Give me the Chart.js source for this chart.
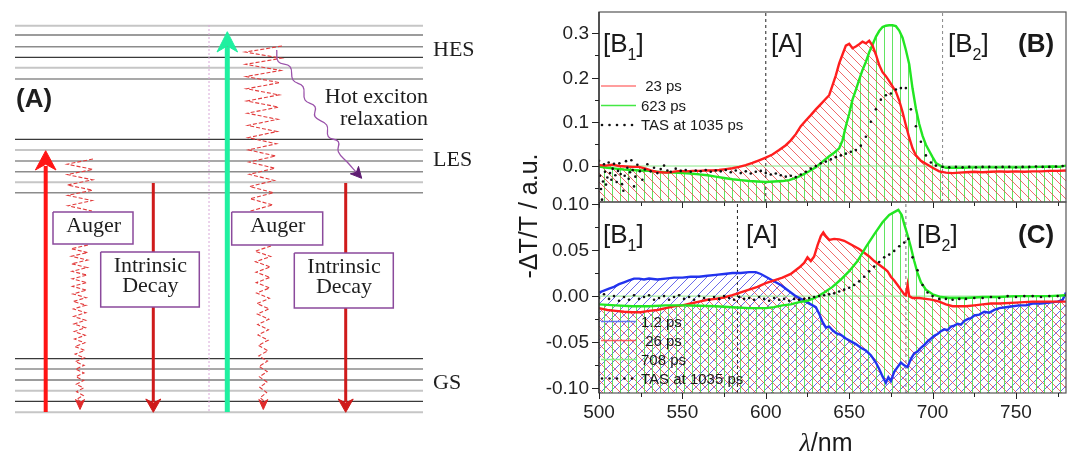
<!DOCTYPE html>
<html>
<head>
<meta charset="utf-8">
<script src="https://cdn.jsdelivr.net/npm/chart.js@4.4.1/dist/chart.umd.min.js"></script>
<style>
html, body { margin: 0; padding: 0; background: #fff; }
#wrap { position: relative; width: 1072px; height: 458px; overflow: hidden; }
canvas { position: absolute; top: 0; }
#scheme { left: 0; }
#panelB, #panelC { left: 480px; }
</style>
</head>
<body>
<div id="wrap">
  <canvas id="scheme" width="480" height="458"></canvas>
  <canvas id="panelB" width="592" height="458"></canvas>
  <canvas id="panelC" width="592" height="458"></canvas>
</div>
<script>
// ---- panel (B): -dT/T spectra, [nm, value]
const b23 = [[500,0.002],[504,0.001],[508,0.003],[512,0.0],[516,-0.001],[520,-0.002],[524,-0.002],[528,-0.006],[531,-0.010],[534,-0.013],[537,-0.014],[540,-0.015],[543,-0.014],[546,-0.012],[549,-0.011],[552,-0.012],[556,-0.011],[560,-0.011],[564,-0.010],[568,-0.010],[572,-0.009],[576,-0.007],[580,-0.005],[584,-0.002],[588,0.002],[592,0.007],[596,0.013],[600,0.019],[604,0.026],[608,0.036],[612,0.047],[615,0.058],[618,0.072],[621,0.090],[624,0.103],[627,0.115],[630,0.128],[633,0.140],[636,0.152],[638,0.160],[640,0.182],[642,0.205],[644,0.232],[646,0.252],[648,0.272],[650,0.276],[652,0.266],[654,0.270],[656,0.275],[658,0.281],[660,0.277],[662,0.283],[664,0.272],[666,0.252],[668,0.228],[670,0.212],[672,0.203],[674,0.192],[676,0.180],[678,0.168],[680,0.148],[682,0.122],[684,0.092],[686,0.064],[688,0.040],[690,0.024],[693,0.012],[696,0.005],[700,-0.004],[704,-0.012],[708,-0.015],[712,-0.016],[716,-0.015],[720,-0.014],[725,-0.013],[730,-0.014],[735,-0.013],[740,-0.012],[745,-0.013],[750,-0.012],[755,-0.013],[760,-0.012],[765,-0.012],[770,-0.011],[775,-0.011],[780,-0.010]];
const b623 = [[500,-0.001],[505,-0.004],[510,-0.006],[515,-0.008],[520,-0.009],[525,-0.010],[530,-0.011],[535,-0.013],[540,-0.014],[545,-0.015],[550,-0.016],[555,-0.017],[560,-0.019],[565,-0.021],[570,-0.024],[575,-0.027],[580,-0.030],[585,-0.032],[590,-0.034],[595,-0.035],[600,-0.036],[605,-0.035],[610,-0.034],[614,-0.032],[618,-0.027],[622,-0.020],[626,-0.012],[630,-0.003],[634,0.010],[638,0.022],[641,0.030],[644,0.040],[646,0.058],[648,0.090],[650,0.118],[652,0.150],[654,0.172],[656,0.195],[658,0.217],[660,0.235],[662,0.257],[664,0.274],[666,0.292],[668,0.305],[670,0.314],[672,0.317],[674,0.318],[676,0.318],[678,0.316],[680,0.306],[682,0.290],[684,0.262],[686,0.230],[688,0.175],[690,0.130],[692,0.095],[694,0.068],[696,0.048],[698,0.034],[700,0.020],[702,0.007],[705,0.000],[708,-0.004],[712,-0.004],[718,-0.004],[725,-0.003],[735,-0.003],[745,-0.003],[755,-0.003],[765,-0.002],[772,-0.001],[776,-0.002],[780,0.001]];
const bTas = [[500,0.012],[500.6,-0.022],[501.2,-0.052],[501.8,-0.076],[502.4,-0.035],[503,0.004],[503.6,-0.013],[504.2,-0.042],[505,-0.026],[505.8,0.008],[506.6,-0.016],[507.4,-0.031],[508.2,-0.006],[509,0.005],[509.8,-0.021],[510.6,-0.036],[511.4,-0.011],[512.2,0.006],[513,-0.018],[513.8,-0.041],[514.6,-0.056],[515.4,-0.022],[516.2,0.011],[517,-0.004],[517.8,-0.029],[518.6,-0.014],[519.4,0.013],[520.2,-0.009],[521,-0.046],[521.8,-0.024],[523,0.003],[524.5,-0.012],[526,-0.031],[527.5,-0.008],[529,0.004],[531,-0.012],[533,-0.004],[535,-0.016],[537,-0.007],[539,0.001],[541,-0.010],[543,-0.013],[546,-0.006],[549,-0.011],[552,-0.009],[555,-0.013],[558,-0.010],[561,-0.012],[564,-0.009],[567,-0.013],[570,-0.010],[573,-0.012],[576,-0.009],[579,-0.014],[582,-0.010],[585,-0.016],[588,-0.012],[591,-0.017],[594,-0.013],[597,-0.011],[600,-0.016],[603,-0.019],[606,-0.017],[609,-0.021],[612,-0.024],[615,-0.022],[618,-0.025],[621,-0.019],[624,-0.013],[627,-0.006],[630,0.000],[633,0.006],[636,0.010],[639,0.015],[642,0.020],[645,0.024],[648,0.028],[651,0.032],[654,0.036],[657,0.046],[660,0.066],[663,0.100],[666,0.128],[669,0.150],[672,0.160],[675,0.164],[678,0.173],[681,0.176],[684,0.176],[687,0.128],[690,0.090],[693,0.055],[696,0.024],[699,0.008],[702,0.001],[706,-0.002],[710,-0.003],[714,-0.002],[718,-0.003],[722,-0.002],[726,-0.003],[730,-0.002],[734,-0.002],[738,-0.003],[742,-0.002],[746,-0.002],[750,-0.003],[754,-0.002],[758,-0.002],[762,-0.001],[766,-0.002],[770,-0.002],[774,-0.001],[778,0.0]];
const bDividers = [600, 706];

// ---- panel (C)
const c12 = [[500,0.004],[503,0.006],[506,0.008],[509,0.010],[512,0.013],[515,0.015],[518,0.017],[521,0.019],[524,0.019],[527,0.018],[530,0.019],[535,0.018],[540,0.019],[545,0.020],[550,0.020],[555,0.021],[560,0.021],[565,0.022],[570,0.023],[575,0.024],[580,0.025],[585,0.025],[590,0.026],[594,0.026],[597,0.024],[600,0.021],[603,0.018],[606,0.015],[609,0.012],[612,0.008],[615,0.004],[618,0.000],[621,-0.003],[624,-0.006],[627,-0.009],[630,-0.012],[632,-0.019],[634,-0.028],[636,-0.034],[638,-0.033],[640,-0.037],[642,-0.040],[645,-0.042],[648,-0.046],[651,-0.049],[654,-0.052],[657,-0.056],[660,-0.059],[663,-0.064],[666,-0.072],[668,-0.079],[670,-0.087],[672,-0.094],[673.5,-0.088],[675,-0.092],[677,-0.082],[679,-0.077],[681,-0.072],[683,-0.075],[685,-0.077],[687,-0.068],[689,-0.062],[691,-0.060],[693,-0.056],[695,-0.053],[697,-0.049],[699,-0.046],[701,-0.043],[703,-0.041],[705,-0.038],[707,-0.036],[709,-0.037],[711,-0.033],[713,-0.032],[715,-0.030],[717,-0.031],[719,-0.027],[721,-0.025],[723,-0.024],[725,-0.021],[728,-0.020],[731,-0.017],[734,-0.018],[737,-0.015],[740,-0.013],[744,-0.012],[748,-0.011],[752,-0.010],[756,-0.010],[760,-0.008],[765,-0.008],[770,-0.007],[775,-0.006],[778,-0.004],[780,0.004]];
const c26 = [[500,-0.013],[505,-0.015],[510,-0.016],[515,-0.017],[520,-0.0175],[525,-0.0175],[530,-0.016],[535,-0.015],[540,-0.013],[545,-0.011],[550,-0.010],[555,-0.008],[560,-0.006],[565,-0.004],[570,-0.003],[575,-0.0015],[580,0.001],[585,0.004],[590,0.007],[595,0.010],[600,0.014],[605,0.017],[610,0.020],[615,0.024],[620,0.031],[623,0.036],[625,0.042],[627,0.038],[629,0.043],[631,0.055],[633,0.065],[634.5,0.069],[636,0.065],[638,0.061],[641,0.062],[644,0.0615],[647,0.060],[650,0.057],[653,0.054],[656,0.051],[659,0.047],[662,0.043],[665,0.038],[668,0.034],[671,0.030],[673,0.027],[675,0.021],[677,0.017],[679,0.012],[681,0.007],[683,0.002],[684,0.001],[685,0.012],[686,0.000],[688,-0.002],[692,-0.002],[696,-0.003],[700,-0.004],[704,-0.006],[708,-0.009],[712,-0.011],[716,-0.011],[720,-0.011],[725,-0.010],[730,-0.009],[735,-0.008],[740,-0.008],[750,-0.007],[760,-0.006],[770,-0.006],[780,-0.006]];
const c708 = [[500,-0.009],[510,-0.010],[520,-0.011],[530,-0.011],[540,-0.010],[550,-0.010],[560,-0.0105],[570,-0.011],[580,-0.012],[590,-0.013],[600,-0.013],[605,-0.012],[610,-0.010],[615,-0.009],[620,-0.0065],[625,-0.005],[630,-0.0015],[635,0.004],[640,0.010],[645,0.018],[650,0.027],[655,0.038],[660,0.053],[665,0.067],[670,0.080],[674,0.088],[677,0.091],[679.5,0.0935],[681.5,0.088],[683,0.078],[685,0.066],[687,0.053],[689,0.038],[691,0.025],[693,0.015],[696,0.007],[700,0.002],[705,-0.001],[710,-0.002],[720,-0.002],[730,-0.001],[740,-0.001],[750,0.0],[760,0.0],[770,0.0],[780,0.001]];
const cTas = [[500,-0.002],[503,0.002],[506,-0.003],[509,0.0],[512,-0.005],[515,-0.001],[518,-0.004],[521,0.001],[524,-0.003],[527,-0.001],[530,0.001],[533,-0.004],[536,-0.002],[539,0.0],[542,-0.004],[545,-0.001],[548,0.001],[551,-0.003],[554,-0.001],[557,-0.004],[560,0.0],[563,-0.002],[566,-0.004],[569,-0.001],[572,-0.003],[575,0.0],[578,-0.002],[581,-0.004],[584,-0.001],[587,-0.003],[590,-0.002],[593,-0.004],[596,-0.001],[599,-0.003],[602,-0.005],[605,-0.002],[608,-0.004],[611,-0.003],[614,-0.005],[617,-0.003],[620,-0.004],[623,-0.003],[626,-0.002],[629,-0.001],[632,0.0],[635,0.001],[638,0.002],[641,0.003],[644,0.005],[647,0.007],[650,0.009],[653,0.012],[656,0.016],[659,0.021],[662,0.027],[665,0.032],[668,0.037],[671,0.042],[674,0.045],[677,0.049],[680,0.054],[683,0.058],[685.5,0.062],[688,0.042],[691,0.028],[694,0.012],[697,0.004],[700,0.0],[704,-0.003],[708,-0.003],[712,-0.004],[716,-0.003],[720,-0.003],[725,-0.002],[730,-0.002],[735,-0.001],[740,-0.002],[745,0.0],[750,-0.001],[755,0.0],[760,0.0],[765,-0.001],[770,0.0],[775,0.0],[780,0.001]];
const cDividers = [583, 684];

// ---- axes
const xTickValues = [500, 525, 550, 575, 600, 625, 650, 675, 700, 725, 750, 775];
const xLabelValues = [500, 550, 600, 650, 700, 750];
const yTicksB = [0.0, 0.1, 0.2, 0.3];
const yMinorB = [-0.05, 0.05, 0.15, 0.25];
const yTicksC = [-0.10, -0.05, 0.0, 0.05, 0.10];
const yMinorC = [-0.075, -0.025, 0.025, 0.075];
const legendB = [' 23 ps', '623 ps', 'TAS at 1035 ps'];
const legendC = ['1.2 ps', ' 26 ps', '708 ps', 'TAS at 1035 ps'];

// ---- scheme (A): energies in drawing units (top = 0)
const hesLevels = [25.7, 35, 46.7, 57.3, 67.7, 79];
const lesLevels = [139.3, 150, 161, 171.7, 182.3, 192.7];
const gsLevels = [358.7, 369, 380, 390.7, 401.3, 412.3];
const hesTone = ['light', 'dark', 'mid', 'dark', 'light', 'mid'];
const lesTone = ['dark', 'light', 'mid', 'mid', 'light', 'mid'];
const gsTone = ['dark', 'mid', 'dark', 'light', 'dark', 'light'];
const hotPath = [[276.7,50],[278.3,61.7],[290,66.7],[293,80],[303,86.7],[305,100],[315,106.7],[315,116.7],[326.7,125],[328.3,136.7],[338.3,141.7],[338.3,151.7],[348.3,163.3],[356,172]];
const hotHead = [[361.7,178.3],[350.3,173.8],[356.4,172.3],[358.5,166.4],[361.7,178.3]];

const SANS = '"Liberation Sans", Arial, Helvetica, sans-serif';
const SERIF = '"Liberation Serif", "Times New Roman", serif';
Chart.defaults.font.family = SANS;

const xy = pairs => pairs.map(p => ({ x: p[0], y: p[1] }));

function hatch(canvasId, color, dir, size) {
  const c = document.createElement('canvas');
  c.width = c.height = size;
  const g = c.getContext('2d');
  g.strokeStyle = color;
  g.lineWidth = 1;
  g.beginPath();
  if (dir === 'v') {
    g.moveTo(Math.floor(size / 2) + 0.5, 0); g.lineTo(Math.floor(size / 2) + 0.5, size);
  } else if (dir === 'b') {
    g.moveTo(-1, -1); g.lineTo(size + 1, size + 1);
    g.moveTo(size - 1, -1); g.lineTo(size + 1, 1);
    g.moveTo(-1, size - 1); g.lineTo(1, size + 1);
  } else {
    g.moveTo(-1, size + 1); g.lineTo(size + 1, -1);
    g.moveTo(-1, 1); g.lineTo(1, -1);
    g.moveTo(size - 1, size + 1); g.lineTo(size + 1, size - 1);
  }
  g.stroke();
  return document.getElementById(canvasId).getContext('2d').createPattern(c, 'repeat');
}

function spectrum(pairs, color, pattern, order) {
  return { data: xy(pairs), borderColor: color, borderWidth: 2.4, pointRadius: 0,
    fill: 'start', backgroundColor: pattern, order: order };
}
function dots(pairs) {
  return { data: xy(pairs), showLine: false, pointRadius: 1.3, pointBorderWidth: 0,
    pointBackgroundColor: '#111', fill: false, order: 0 };
}
function vline(x, lo, hi, color) {
  return { data: [{ x: x, y: lo }, { x: x, y: hi }], borderColor: color, borderWidth: 1,
    borderDash: [3, 3], pointRadius: 0, fill: false, order: 8 };
}
function zeroLine() {
  return { data: [{ x: 500, y: 0 }, { x: 780, y: 0 }], borderColor: '#86e886', borderWidth: 1,
    pointRadius: 0, fill: false, order: 9 };
}

function drawTag(ctx, tag) {
  ctx.fillStyle = '#1a1a1a';
  ctx.textBaseline = 'alphabetic';
  ctx.textAlign = 'left';
  ctx.font = '26px ' + SANS;
  let x = tag.x;
  ctx.fillText(tag.main, x, tag.y);
  x += ctx.measureText(tag.main).width;
  if (tag.sub) {
    ctx.font = '16px ' + SANS;
    ctx.fillText(tag.sub, x, tag.y + 8);
    x += ctx.measureText(tag.sub).width;
    ctx.font = '26px ' + SANS;
  }
  ctx.fillText(tag.tail, x, tag.y);
}

function panelDecor(cfg) {
  return {
    id: 'decor' + cfg.name,
    afterDatasetsDraw(chart) {
      const { ctx, chartArea: a } = chart;
      const sx = chart.scales.x, sy = chart.scales.y;
      ctx.save();
      // frame
      ctx.strokeStyle = '#555';
      ctx.lineWidth = 1.2;
      ctx.strokeRect(a.left, a.top, a.right - a.left, a.bottom - a.top);
      ctx.strokeStyle = '#222';
      ctx.beginPath(); ctx.moveTo(a.left, a.top); ctx.lineTo(a.left, a.bottom); ctx.stroke();
      // y ticks
      ctx.lineWidth = 1;
      ctx.fillStyle = '#222';
      ctx.font = '19px ' + SANS;
      ctx.textAlign = 'right';
      ctx.textBaseline = 'middle';
      cfg.yMajor.forEach(v => {
        const py = Math.round(sy.getPixelForValue(v)) + 0.5;
        ctx.beginPath(); ctx.moveTo(a.left - 7, py); ctx.lineTo(a.left, py); ctx.stroke();
        ctx.fillText(v.toFixed(cfg.digits), a.left - 10, py);
      });
      cfg.yMinor.forEach(v => {
        const py = Math.round(sy.getPixelForValue(v)) + 0.5;
        ctx.beginPath(); ctx.moveTo(a.left - 4, py); ctx.lineTo(a.left, py); ctx.stroke();
      });
      // x ticks on the bottom edge
      xTickValues.forEach(v => {
        const px = Math.round(sx.getPixelForValue(v)) + 0.5;
        const len = v % 50 === 0 ? 6 : 4;
        ctx.beginPath(); ctx.moveTo(px, a.bottom); ctx.lineTo(px, a.bottom + len); ctx.stroke();
      });
      if (cfg.xLabels) {
        ctx.textAlign = 'center';
        xLabelValues.forEach(v => ctx.fillText(String(v), sx.getPixelForValue(v), a.bottom + 20));
      }
      // region tags
      cfg.tags.forEach(t => drawTag(ctx, t));
      ctx.font = 'bold 26px ' + SANS;
      ctx.textAlign = 'left';
      ctx.textBaseline = 'alphabetic';
      ctx.fillText(cfg.panel.t, cfg.panel.x, cfg.panel.y);
      // legend
      ctx.font = '15px ' + SANS;
      ctx.textBaseline = 'middle';
      cfg.legend.forEach((item, i) => {
        const ly = cfg.legendY + i * cfg.legendDy;
        if (item.dots) {
          ctx.fillStyle = '#111';
          for (let k = 0; k < 5; k++) {
            ctx.beginPath(); ctx.arc(a.left + 3 + k * 7.5, ly, 1.3, 0, Math.PI * 2); ctx.fill();
          }
        } else {
          ctx.strokeStyle = item.color;
          ctx.lineWidth = 1.3;
          ctx.beginPath(); ctx.moveTo(a.left + 2, ly); ctx.lineTo(a.left + 37, ly); ctx.stroke();
        }
        ctx.fillStyle = '#1a1a1a';
        ctx.fillText(item.label, a.left + 42, ly + 1);
      });
      if (cfg.titles) {
        ctx.fillStyle = '#1a1a1a';
        ctx.font = '25px ' + SANS;
        ctx.textAlign = 'center';
        ctx.textBaseline = 'middle';
        ctx.save();
        ctx.translate(a.left - 69, 216);
        ctx.rotate(-Math.PI / 2);
        ctx.fillText('-\u0394T/T / a.u.', 0, 0);
        ctx.restore();
        ctx.textBaseline = 'alphabetic';
        ctx.textAlign = 'left';
        ctx.font = 'italic 26px ' + SERIF;
        const w1 = ctx.measureText('\u03bb').width;
        ctx.font = '25px ' + SANS;
        const w2 = ctx.measureText('/nm').width;
        const x0 = 826 - 480 - (w1 + w2) / 2;
        ctx.font = 'italic 26px ' + SERIF;
        ctx.fillText('\u03bb', x0, 451);
        ctx.font = '25px ' + SANS;
        ctx.fillText('/nm', x0 + w1, 451);
      }
      ctx.restore();
    }
  };
}

function panelChart(id, cfg) {
  return new Chart(document.getElementById(id), {
    type: 'line',
    data: { datasets: cfg.datasets },
    options: {
      responsive: false,
      animation: false,
      events: [],
      layout: { padding: cfg.padding },
      scales: {
        x: { type: 'linear', min: 500, max: 780, display: false },
        y: { type: 'linear', min: cfg.yMin, max: cfg.yMax, display: false }
      },
      plugins: {
        legend: { display: false },
        tooltip: { enabled: false },
        filler: { drawTime: 'beforeDatasetsDraw' }
      }
    },
    plugins: [panelDecor(cfg)]
  });
}

const RED = '#ff1e1e', GREEN = '#22e622', BLUE = '#2233ee';
const B_MIN = -0.0813, B_MAX = 0.348, C_MIN = -0.105, C_MAX = 0.102;

panelChart('panelB', {
  name: 'B', yMin: B_MIN, yMax: B_MAX, digits: 1, yMajor: yTicksB, yMinor: yMinorB,
  padding: { left: 119, right: 6, top: 12, bottom: 256 }, xLabels: false, titles: false,
  datasets: [
    dots(bTas),
    spectrum(b23, RED, hatch('panelB', 'rgba(236,70,70,0.8)', 'b', 9), 1),
    spectrum(b623, GREEN, hatch('panelB', 'rgba(70,225,70,0.85)', 'v', 8), 2),
    vline(bDividers[0], B_MIN, B_MAX, '#222'),
    vline(bDividers[1], B_MIN, B_MAX, '#888'),
    zeroLine()
  ],
  tags: [
    { main: '[B', sub: '1', tail: ']', x: 123, y: 52 },
    { main: '[A', tail: ']', x: 771 - 480, y: 52 },
    { main: '[B', sub: '2', tail: ']', x: 948 - 480, y: 52 }
  ],
  panel: { t: '(B)', x: 1018 - 480, y: 52 },
  legend: [
    { label: legendB[0], color: 'rgba(255,70,70,0.7)' },
    { label: legendB[1], color: '#44e844' },
    { label: legendB[2], dots: true }
  ],
  legendY: 86, legendDy: 19.5
});

panelChart('panelC', {
  name: 'C', yMin: C_MIN, yMax: C_MAX, digits: 2, yMajor: yTicksC, yMinor: yMinorC,
  padding: { left: 119, right: 6, top: 202, bottom: 65 }, xLabels: true, titles: true,
  datasets: [
    dots(cTas),
    spectrum(c708, GREEN, hatch('panelC', 'rgba(70,225,70,0.85)', 'v', 8), 1),
    spectrum(c26, RED, hatch('panelC', 'rgba(236,70,70,0.8)', 'b', 9), 2),
    spectrum(c12, BLUE, hatch('panelC', 'rgba(70,70,230,0.8)', 'f', 9), 3),
    vline(cDividers[0], C_MIN, C_MAX, '#222'),
    vline(cDividers[1], C_MIN, C_MAX, '#777'),
    zeroLine()
  ],
  tags: [
    { main: '[B', sub: '1', tail: ']', x: 123, y: 243 },
    { main: '[A', tail: ']', x: 746 - 480, y: 243 },
    { main: '[B', sub: '2', tail: ']', x: 917 - 480, y: 243 }
  ],
  panel: { t: '(C)', x: 1018 - 480, y: 243 },
  legend: [
    { label: legendC[0], color: '#6677ee' },
    { label: legendC[1], color: 'rgba(255,60,60,0.8)' },
    { label: legendC[2], color: '#8ef08e' },
    { label: legendC[3], dots: true }
  ],
  legendY: 321.5, legendDy: 19
});

// ---------------- scheme (A)
const toneStyle = { dark: ['#3a3a3a', 1.2], mid: ['#8c8c8c', 1.6], light: ['#c6c6c6', 2] };
const schemeSets = [];

// boxes (drawn on top of the arrows that pass behind them)
const boxes = [[53, 212, 133, 244], [100.7, 252, 199.3, 307], [231.7, 212, 322.7, 245], [294.3, 253, 393.3, 308]];
boxes.forEach(b => schemeSets.push({
  data: [{ x: b[0], y: b[1] }, { x: b[2], y: b[1] }, { x: b[2], y: b[3] }, { x: b[0], y: b[3] }, { x: b[0], y: b[1] }],
  borderColor: '#8b4a9c', borderWidth: 1.5, backgroundColor: '#fff', fill: 'shape', pointRadius: 0, order: 0
}));

function head(x, tip, base, hw) {
  const notch = tip + (base - tip) * 0.7;
  return [{ x: x, y: tip }, { x: x - hw, y: base }, { x: x, y: notch }, { x: x + hw, y: base }, { x: x, y: tip }];
}
function arrow(x, from, to, tip, base, hw, color, width) {
  schemeSets.push({ data: [{ x: x, y: from }, { x: x, y: to }], borderColor: color, borderWidth: width,
    pointRadius: 0, fill: false, order: 3 });
  schemeSets.push({ data: head(x, tip, base, hw), borderColor: color, borderWidth: 1,
    backgroundColor: color, fill: 'shape', pointRadius: 0, order: 2 });
}
arrow(45.7, 412, 166, 150.7, 170, 10.3, '#ff1414', 4);
arrow(227.3, 412, 47, 31.7, 52, 10.3, '#1ff0a0', 5);
arrow(153.3, 183, 402, 412.3, 399, 7.5, '#cf1b1b', 3);
arrow(345.7, 183, 402, 412.3, 399, 7.5, '#cf1b1b', 3);

// Auger zigzags: centre/half-width at both ends, number of strokes
const zigzags = [
  { x0: 80, y0: 159, x1: 80, y1: 211, w0: 13, w1: 12, n: 10 },
  { x0: 79.5, y0: 245, x1: 80, y1: 403, w0: 8.5, w1: 3, n: 42 },
  { x0: 263.5, y0: 46, x1: 261.5, y1: 211, w0: 18.5, w1: 11, n: 27 },
  { x0: 263, y0: 246, x1: 263.3, y1: 403, w0: 8, w1: 3, n: 30 }
];
zigzags.forEach(z => {
  const pts = [];
  for (let i = 0; i <= z.n; i++) {
    const t = i / z.n;
    const side = i % 2 === 0 ? 1 : -1;
    pts.push({ x: z.x0 + (z.x1 - z.x0) * t + side * (z.w0 + (z.w1 - z.w0) * t), y: z.y0 + (z.y1 - z.y0) * t });
  }
  schemeSets.push({ data: pts, borderColor: '#e23b3b', borderWidth: 1.1, borderDash: [4, 2],
    pointRadius: 0, fill: false, order: 4 });
});
[[80, 409.5], [263.3, 409.5]].forEach(h => schemeSets.push({
  data: head(h[0], h[1], 399.5, 4.5), borderColor: '#e02a2a', borderWidth: 1,
  backgroundColor: '#e02a2a', fill: 'shape', pointRadius: 0, order: 2
}));

// hot exciton relaxation
schemeSets.push({ data: xy(hotPath), borderColor: '#9a52aa', borderWidth: 1.3, tension: 0.45,
  pointRadius: 0, fill: false, order: 3 });
schemeSets.push({ data: xy(hotHead), borderColor: '#5e1d72', borderWidth: 1, backgroundColor: '#5e1d72',
  fill: 'shape', pointRadius: 0, order: 2 });

// pink divider between the two excitation schemes
schemeSets.push({ data: [{ x: 209, y: 25 }, { x: 209, y: 412 }], borderColor: '#d8a6d8', borderWidth: 1,
  borderDash: [2, 2], pointRadius: 0, fill: false, order: 6 });

// energy levels
[[hesLevels, hesTone], [lesLevels, lesTone], [gsLevels, gsTone]].forEach(([lv, tone]) => {
  lv.forEach((e, i) => schemeSets.push({
    data: [{ x: 15, y: e }, { x: 423, y: e }], borderColor: toneStyle[tone[i]][0],
    borderWidth: toneStyle[tone[i]][1], pointRadius: 0, fill: false, order: 7
  }));
});

const schemeText = [
  { t: '(A)', x: 16, y: 106.7, font: 'bold 26px ' + SANS, align: 'left' },
  { t: 'HES', x: 433, y: 56, font: '22px ' + SERIF, align: 'left' },
  { t: 'LES', x: 433, y: 166, font: '22px ' + SERIF, align: 'left' },
  { t: 'GS', x: 433, y: 389, font: '22px ' + SERIF, align: 'left' },
  { t: 'Hot exciton', x: 428, y: 103.3, font: '22px ' + SERIF, align: 'right' },
  { t: 'relaxation', x: 428, y: 125, font: '22px ' + SERIF, align: 'right' },
  { t: 'Auger', x: 93.7, y: 232, font: '22px ' + SERIF, align: 'center' },
  { t: 'Auger', x: 277.8, y: 232, font: '22px ' + SERIF, align: 'center' },
  { t: 'Intrinsic', x: 150.3, y: 271.7, font: '22px ' + SERIF, align: 'center' },
  { t: 'Decay', x: 150.3, y: 291.7, font: '22px ' + SERIF, align: 'center' },
  { t: 'Intrinsic', x: 344, y: 273.3, font: '22px ' + SERIF, align: 'center' },
  { t: 'Decay', x: 344, y: 293.3, font: '22px ' + SERIF, align: 'center' }
];

const schemeLabels = {
  id: 'schemeLabels',
  afterDatasetsDraw(chart) {
    const { ctx } = chart;
    const sx = chart.scales.x, sy = chart.scales.y;
    ctx.save();
    ctx.fillStyle = '#1e1e1e';
    ctx.textBaseline = 'alphabetic';
    schemeText.forEach(s => {
      ctx.font = s.font;
      ctx.textAlign = s.align;
      ctx.fillText(s.t, sx.getPixelForValue(s.x), sy.getPixelForValue(s.y));
    });
    ctx.restore();
  }
};

new Chart(document.getElementById('scheme'), {
  type: 'line',
  data: { datasets: schemeSets },
  options: {
    responsive: false,
    animation: false,
    events: [],
    layout: { padding: 0 },
    scales: {
      x: { type: 'linear', min: 0, max: 480, display: false },
      y: { type: 'linear', min: 0, max: 458, reverse: true, display: false }
    },
    plugins: { legend: { display: false }, tooltip: { enabled: false } }
  },
  plugins: [schemeLabels]
});
</script>
</body>
</html>
